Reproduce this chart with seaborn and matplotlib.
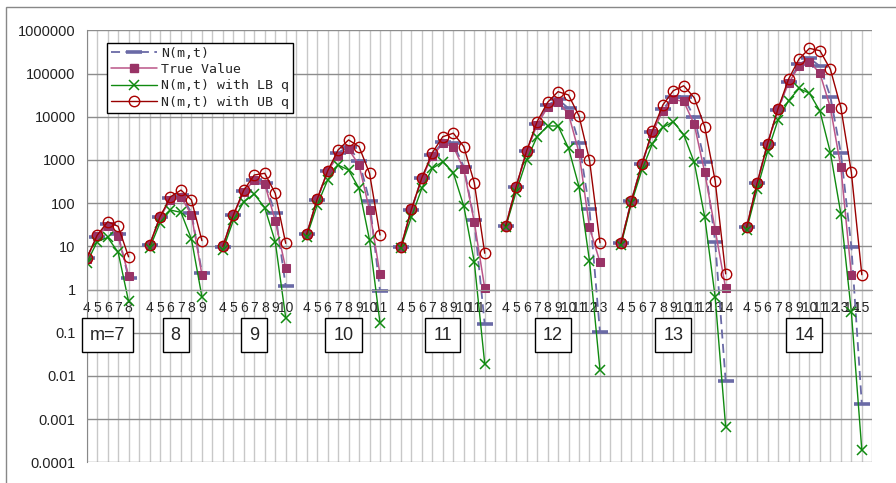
import numpy as np
import pandas as pd
import seaborn as sns
import matplotlib.pyplot as plt
from matplotlib.lines import Line2D
from matplotlib.patches import Rectangle
from matplotlib.ticker import NullLocator

# groups m = 7..14, each with t = 4 .. m+1
m_values = [7, 8, 9, 10, 11, 12, 13, 14]
t_first = 4

# N(m,t) estimate
n_est = [
    [5.3, 16.7, 33, 19, 1.8],
    [10.5, 47, 131, 156, 60, 2.45],
    [9.8, 53, 190, 340, 287, 60, 1.2],
    [19, 118, 550, 1470, 2030, 960, 112, 0.94],
    [9.8, 70, 385, 1300, 2600, 2400, 695, 40, 0.156],
    [29, 240, 1610, 6760, 18600, 25200, 15600, 2500, 72, 0.105],
    [11.7, 112, 790, 4400, 14800, 29000, 28000, 9700, 910, 12.6, 0.0076],
    [27.5, 286, 2370, 14300, 64600, 163000, 225000, 148000, 29000, 1420, 9.8, 0.0022],
]
# true values
true_val = [
    [5.2, 17, 30, 17, 2.1],
    [10.7, 48, 118, 140, 53, 2.2],
    [10, 53, 183, 340, 276, 39, 3.1],
    [19, 123, 550, 1250, 1760, 760, 69, 2.25],
    [9.8, 72, 385, 1230, 2400, 2030, 605, 37, 1.07],
    [29.5, 240, 1610, 6440, 16600, 22300, 11500, 1470, 27.5, 4.3],
    [11.7, 112, 790, 4260, 13800, 25200, 22500, 6660, 515, 24, 1.07],
    [27.5, 286, 2370, 15300, 59000, 148000, 187000, 101000, 16200, 670, 2.2],
]
# N(m,t) with lower bound q
lb_q = [
    [4.1, 12.8, 16, 7.3, 0.53],
    [9, 35, 69, 61, 14.7, 0.68],
    [8.2, 40, 108, 162, 78, 12.8, 0.22],
    [16.7, 90, 340, 760, 585, 220, 14, 0.17],
    [9.2, 48, 220, 635, 910, 505, 85, 4.4, 0.019],
    [28, 183, 1000, 3450, 6100, 6100, 1860, 240, 4.6, 0.0137],
    [10.5, 100, 585, 2330, 5650, 7700, 3800, 880, 48, 0.66, 0.00066],
    [24, 208, 1550, 8400, 23400, 45000, 35000, 13500, 1470, 56, 0.30, 0.00019],
]
# N(m,t) with upper bound q
ub_q = [
    [5.3, 18, 37, 29, 5.7],
    [10.7, 48, 140, 200, 118, 13.5],
    [10, 53, 200, 447, 490, 168, 11.7],
    [19, 123, 550, 1700, 2900, 2030, 490, 18.3],
    [9.8, 72, 385, 1470, 3450, 4150, 2030, 297, 6.9],
    [29.5, 240, 1610, 7670, 21500, 38000, 31800, 10400, 1000, 12.1],
    [11.7, 112, 790, 4650, 18600, 40000, 52000, 27600, 5870, 325, 2.3],
    [27.5, 286, 2370, 15300, 73600, 216000, 382000, 337000, 125000, 16200, 515, 2.2],
]

series_names = ["N(m,t)", "True Value", "N(m,t) with LB q", "N(m,t) with UB q"]
series_data = [n_est, true_val, lb_q, ub_q]

# lay the groups out on one category axis with one empty slot between groups
rows = []
tick_pos, tick_lab, centers = [], [], []
pos = 0
for i, m in enumerate(m_values):
    ts = list(range(t_first, m + 2))
    for j, t in enumerate(ts):
        tick_pos.append(pos + j)
        tick_lab.append(str(t))
        for name, data in zip(series_names, series_data):
            if j < len(data[i]):
                rows.append({"pos": pos + j, "value": data[i][j], "series": name, "m": m})
    centers.append(pos + (len(ts) - 1) / 2)
    pos += len(ts) + 1
n_slots = pos - 1
df = pd.DataFrame(rows)

sns.set_style("white")
plt.rcParams["font.family"] = ["Liberation Sans", "DejaVu Sans"]

fig = plt.figure(figsize=(8.96, 4.83), dpi=100)
ax = fig.add_axes([86.7 / 896, 20.7 / 483, 785.6 / 896, 432 / 483])

styles = {
    "N(m,t)": dict(color="#6a6aa6", linestyle=(0, (5, 3)), lw=1.3, marker="_", ms=12,
                   mew=2.6, mec="#6a6aa6"),
    "True Value": dict(color="#bb5588", lw=1.1, marker="s", ms=5.5, mfc="#993366",
                       mec="#993366"),
    "N(m,t) with LB q": dict(color="#108a10", lw=1.0, marker="x", ms=7, mew=1.1,
                             mec="#108a10"),
    "N(m,t) with UB q": dict(color="#990000", lw=1.0, marker="o", ms=7.5, mfc="none",
                             mew=1.0, mec="#aa0000"),
}

for name in series_names:
    sub = df[df["series"] == name]
    sns.lineplot(data=sub, x="pos", y="value", units="m", estimator=None, ax=ax,
                 legend=False, **styles[name])

ax.set_yscale("log")
ax.set_ylim(1e-4, 1e6)
ax.set_xlim(0, n_slots)
yt = [10.0 ** k for k in range(-4, 7)]
ax.set_yticks(yt)
ax.set_yticklabels(["0.0001", "0.001", "0.01", "0.1", "1", "10", "100", "1000",
                    "10000", "100000", "1000000"], fontsize=10.5, color="#222222")
ax.yaxis.set_minor_locator(NullLocator())

labels_all = [""] * (n_slots + 1)
for p, lab in zip(tick_pos, tick_lab):
    labels_all[p] = lab
ax.set_xticks(range(n_slots + 1))
ax.set_xticklabels(labels_all, fontsize=6.8, color="#555555")
ax.tick_params(axis="x", length=3, color="#999999", pad=5)
ax.tick_params(axis="y", length=4, color="#888888", pad=4)
ax.spines["bottom"].set_position(("data", 1))
ax.spines["bottom"].set_color("#999999")
ax.spines["left"].set_color("#888888")
ax.spines["top"].set_visible(False)
ax.spines["right"].set_visible(False)

ax.grid(axis="x", color="#c8c8c8", lw=1.0)
ax.grid(axis="y", color="#8c8c8c", lw=1.0)
ax.set_axisbelow(True)
ax.set_xlabel("")
ax.set_ylabel("")

# group boxes
for m, c in zip(m_values, centers):
    txt = f"m={m}" if m == m_values[0] else f"{m}"
    ax.text(c, 0.088, txt, ha="center", va="center", fontsize=13,
            bbox=dict(boxstyle="square,pad=0.45", fc="white", ec="black", lw=1.0))

handles = [Line2D([0], [0], label=n, **styles[n]) for n in series_names]
leg = ax.legend(handles=handles, loc="upper left", bbox_to_anchor=(0.026, 0.971),
                borderaxespad=0,
                prop={"family": "DejaVu Sans Mono", "size": 9.5}, frameon=True,
                fancybox=False, edgecolor="black", framealpha=1, handlelength=3.5,
                labelspacing=0.25, borderpad=0.3, handletextpad=0.3)
leg.get_frame().set_linewidth(1.0)

# chart area border (left and top visible)
fig.patches.append(Rectangle((6 / 896, -0.1), 2, 1.1 - 7 / 483, transform=fig.transFigure,
                             fill=False, ec="#888888", lw=1.0))

fig.savefig("out.png", dpi=100)
